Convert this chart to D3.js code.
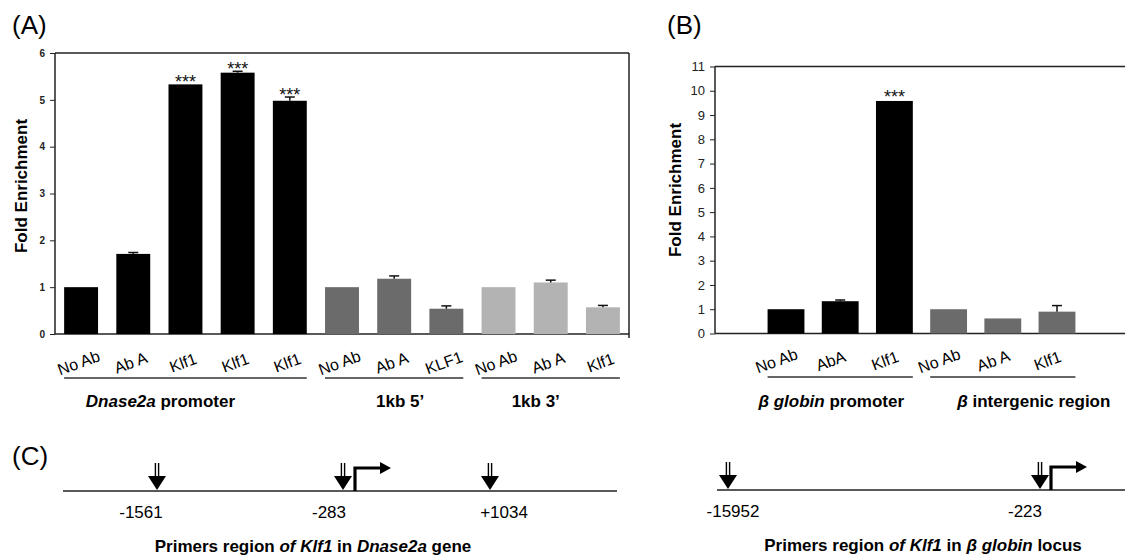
<!DOCTYPE html>
<html>
<head>
<meta charset="utf-8">
<script src="https://cdn.jsdelivr.net/npm/d3@7"></script>
<style>
  body { margin: 0; background: white; }
  svg { font-family: "Liberation Sans", Arial, sans-serif; }
  .tick line { stroke: #222; }
  .domain { display: none; }
</style>
</head>
<body>
<svg id="fig" width="1125" height="557"></svg>
<script>
// panel A: ChIP fold enrichment at Dnase2a
const catsA = ["No Ab", "Ab A", "Klf1", "Klf1", "Klf1", "No Ab", "Ab A", "KLF1", "No Ab", "Ab A", "Klf1"];
const valuesA = [1.0, 1.71, 5.33, 5.58, 4.98, 1.0, 1.18, 0.54, 1.0, 1.10, 0.57];
const errorsA = [0, 0.03, 0, 0.03, 0.08, 0, 0.06, 0.06, 0, 0.05, 0.04];
const groupOfA = [0, 0, 0, 0, 0, 1, 1, 1, 2, 2, 2];
const shadeA = ["k", "k", "k", "k", "k", "d", "d", "d", "l", "l", "l"];
const starsA = [2, 3, 4];
const groupsA = ["Dnase2a promoter", "1kb 5\u2019", "1kb 3\u2019"];
const ticksA = [0, 1, 2, 3, 4, 5, 6];

// panel B: beta globin controls
const catsB = ["No Ab", "AbA", "Klf1", "No Ab", "Ab A", "Klf1"];
const valuesB = [1.0, 1.33, 9.58, 1.0, 0.62, 0.9];
const errorsB = [0, 0.05, 0, 0, 0, 0.25];
const groupOfB = [0, 0, 0, 1, 1, 1];
const shadeB = ["k", "k", "k", "d", "d", "d"];
const starsB = [2];
const groupsB = ["\u03b2 globin promoter", "\u03b2 intergenic region"];
const ticksB = [0, 1, 2, 3, 4, 5, 6, 7, 8, 9, 10, 11];

// panel C: primer maps
const primersDnase = ["-1561", "-283", "+1034"];
const primersGlobin = ["-15952", "-223"];

const shade = { k: "#000", d: "#6b6b6b", l: "#b3b3b3" };

const svg = d3.select("#fig");

function translate(x, y) {
  return "translate(" + String(x) + "," + String(y) + ")";
}

// generic bar panel
function drawPanel(opt) {
  const g = svg.append("g");
  const x = d3.scaleBand()
    .domain(d3.range(opt.cats.length))
    .range(opt.xRange)
    .paddingInner(opt.padIn)
    .paddingOuter(opt.padOut);
  const y = d3.scaleLinear().domain(opt.yDomain).range(opt.yRange);

  // frame
  g.append("line")
    .attr("x1", opt.axisX).attr("x2", opt.frameRight)
    .attr("y1", y(opt.yDomain[1])).attr("y2", y(opt.yDomain[1]))
    .attr("stroke", "#222").attr("stroke-width", 1.5);
  g.append("line")
    .attr("x1", opt.axisX).attr("x2", opt.frameRight)
    .attr("y1", y(0)).attr("y2", y(0))
    .attr("stroke", "#222").attr("stroke-width", 1.5);
  if (opt.rightBorder) {
    g.append("line")
      .attr("x1", opt.frameRight).attr("x2", opt.frameRight)
      .attr("y1", y(opt.yDomain[1])).attr("y2", y(0) + 4)
      .attr("stroke", "#222").attr("stroke-width", 1.5);
  }

  // bars
  g.selectAll("rect.bar")
    .data(opt.values)
    .join("rect")
    .attr("class", "bar")
    .attr("x", (d, i) => x(i))
    .attr("width", x.bandwidth())
    .attr("y", d => y(d))
    .attr("height", d => y(0) - y(d))
    .attr("fill", (d, i) => shade[opt.shades[i]]);

  // error bars
  opt.values.forEach(function(v, i) {
    const e = opt.errors[i];
    if (!e) return;
    const cx = x(i) + x.bandwidth() / 2;
    g.append("line")
      .attr("x1", cx).attr("x2", cx)
      .attr("y1", y(v)).attr("y2", y(v + e))
      .attr("stroke", "#111").attr("stroke-width", 1.5);
    g.append("line")
      .attr("x1", cx - 5).attr("x2", cx + 5)
      .attr("y1", y(v + e)).attr("y2", y(v + e))
      .attr("stroke", "#111").attr("stroke-width", 1.5);
  });

  // significance stars
  g.selectAll("text.star")
    .data(opt.stars)
    .join("text")
    .attr("class", "star")
    .attr("x", i => x(i) + x.bandwidth() / 2)
    .attr("y", i => y(opt.values[i] + opt.errors[i]) + opt.starDy)
    .attr("text-anchor", "middle")
    .attr("font-size", opt.starSize)
    .attr("fill", "#111")
    .text("***");

  // y axis
  const axis = d3.axisLeft(y)
    .tickValues(opt.ticks)
    .tickFormat(d3.format("d"))
    .tickSize(5)
    .tickPadding(5)
    .tickSizeOuter(0);
  const ax = g.append("g")
    .attr("transform", translate(opt.axisX, 0))
    .call(axis);
  ax.selectAll("text")
    .attr("font-size", opt.tickSize)
    .attr("font-weight", opt.tickWeight)
    .attr("fill", "#222");
  g.append("line")
    .attr("x1", opt.axisX).attr("x2", opt.axisX)
    .attr("y1", y(opt.yDomain[1])).attr("y2", y(0))
    .attr("stroke", "#222").attr("stroke-width", 1.5);

  // y title
  g.append("text")
    .attr("transform", translate(opt.titleX, opt.titleY) + " rotate(-90)")
    .attr("text-anchor", "middle")
    .attr("font-size", 17)
    .attr("font-weight", "bold")
    .text("Fold Enrichment");

  // category labels
  g.selectAll("text.cat")
    .data(opt.cats)
    .join("text")
    .attr("class", "cat")
    .attr("transform", (d, i) => translate(x(i) + x.bandwidth() / 2 + opt.catDx, opt.catY) + " rotate(-20)")
    .attr("text-anchor", "middle")
    .attr("dominant-baseline", "middle")
    .attr("font-size", 16)
    .text(d => d);

  // group underlines and labels
  opt.groups.forEach(function(name, gi) {
    const idx = d3.range(opt.cats.length).filter(i => opt.groupOf[i] === gi);
    const x0 = x(idx[0]);
    const x1 = x(idx[idx.length - 1]) + x.bandwidth();
    g.append("line")
      .attr("x1", x0).attr("x2", x1)
      .attr("y1", opt.lineY).attr("y2", opt.lineY)
      .attr("stroke", "#333").attr("stroke-width", 1.5);
    const t = g.append("text")
      .attr("x", (x0 + x1) / 2 + opt.groupShift[gi])
      .attr("y", opt.groupY)
      .attr("text-anchor", "middle")
      .attr("font-size", 17)
      .attr("font-weight", "bold");
    opt.italicPart(name).forEach(function(part) {
      t.append("tspan").attr("font-style", part[1] ? "italic" : null).text(part[0]);
    });
  });
}

drawPanel({
  cats: catsA, values: valuesA, errors: errorsA, shades: shadeA,
  stars: starsA, groupOf: groupOfA, groups: groupsA, ticks: ticksA,
  xRange: [55, 629], padIn: 0.35, padOut: 0.175,
  yDomain: [0, 6], yRange: [334, 53],
  axisX: 55, frameRight: 629, rightBorder: true,
  tickSize: 10, tickWeight: "bold",
  titleX: 27, titleY: 186,
  catDx: -2, catY: 364, lineY: 378, groupY: 407,
  groupShift: [-25, 6, -15],
  starSize: 18, starDy: 4,
  italicPart: function(n) {
    if (n.indexOf("Dnase2a") === 0) return [["Dnase2a", true], [" promoter", false]];
    return [[n, false]];
  }
});

drawPanel({
  cats: catsB, values: valuesB, errors: errorsB, shades: shadeB,
  stars: starsB, groupOf: groupOfB, groups: groupsB, ticks: ticksB,
  xRange: [715, 1128], padIn: 0.32, padOut: 0.97,
  yDomain: [0, 11], yRange: [333.5, 66.5],
  axisX: 715, frameRight: 1125, rightBorder: false,
  tickSize: 13, tickWeight: "normal",
  titleX: 681, titleY: 190,
  catDx: -9, catY: 362, lineY: 377, groupY: 407,
  groupShift: [-9, 31],
  starSize: 18, starDy: 2,
  italicPart: function(n) {
    if (n.indexOf("globin") > 0) return [["\u03b2 globin", true], [" promoter", false]];
    return [["\u03b2", true], [" intergenic region", false]];
  }
});

// panel letters
svg.append("text").attr("x", 12).attr("y", 34).attr("font-size", 26).text("(A)");
svg.append("text").attr("x", 667).attr("y", 34).attr("font-size", 26).text("(B)");
svg.append("text").attr("x", 12).attr("y", 465).attr("font-size", 26).text("(C)");

// panel C: schematic maps
function drawMap(opt) {
  const g = svg.append("g");
  const px = d3.scaleOrdinal().domain(opt.primers).range(opt.arrowX);
  g.append("line")
    .attr("x1", opt.lineX[0]).attr("x2", opt.lineX[1])
    .attr("y1", opt.lineY).attr("y2", opt.lineY)
    .attr("stroke", "#222").attr("stroke-width", 1.6);

  opt.primers.forEach(function(p, i) {
    const cx = px(p);
    [-1.6, 1.6].forEach(function(dx) {
      g.append("line")
        .attr("x1", cx + dx).attr("x2", cx + dx)
        .attr("y1", opt.lineY - 28).attr("y2", opt.lineY - 13)
        .attr("stroke", "#000").attr("stroke-width", 1.4);
    });
    g.append("path")
      .attr("d", d3.line()([[cx - 9, opt.lineY - 15], [cx + 9, opt.lineY - 15], [cx, opt.lineY - 1]]) + "Z")
      .attr("fill", "#000");
    g.append("text")
      .attr("x", cx + opt.labelDx[i])
      .attr("y", opt.lineY + 27)
      .attr("text-anchor", "middle")
      .attr("font-size", 17)
      .text(p);
  });

  // transcription start arrow
  const tx = opt.tssX;
  g.append("path")
    .attr("d", "M" + tx + "," + opt.lineY + "V" + (opt.lineY - 23) + "H" + (tx + 27))
    .attr("fill", "none").attr("stroke", "#000").attr("stroke-width", 3.2);
  g.append("path")
    .attr("d", d3.line()([[tx + 25, opt.lineY - 29], [tx + 36, opt.lineY - 23], [tx + 25, opt.lineY - 17]]) + "Z")
    .attr("fill", "#000");

  const t = g.append("text")
    .attr("x", opt.titleX)
    .attr("y", opt.lineY + 61)
    .attr("text-anchor", "middle")
    .attr("font-size", 17)
    .attr("font-weight", "bold");
  opt.title.forEach(function(part) {
    t.append("tspan").attr("font-style", part[1] ? "italic" : null).text(part[0]);
  });
}

drawMap({
  primers: primersDnase, arrowX: [157, 343, 490],
  labelDx: [-16, -14, 14],
  lineX: [63, 617], lineY: 491, tssX: 355, titleX: 313,
  title: [["Primers region ", false], ["of Klf1", true], [" in ", false], ["Dnase2a", true], [" gene", false]]
});

drawMap({
  primers: primersGlobin, arrowX: [728, 1040],
  labelDx: [5, -15],
  lineX: [717, 1125], lineY: 490, tssX: 1051, titleX: 923,
  title: [["Primers region ", false], ["of Klf1", true], [" in ", false], ["\u03b2 globin", true], [" locus", false]]
});
</script>
</body>
</html>
